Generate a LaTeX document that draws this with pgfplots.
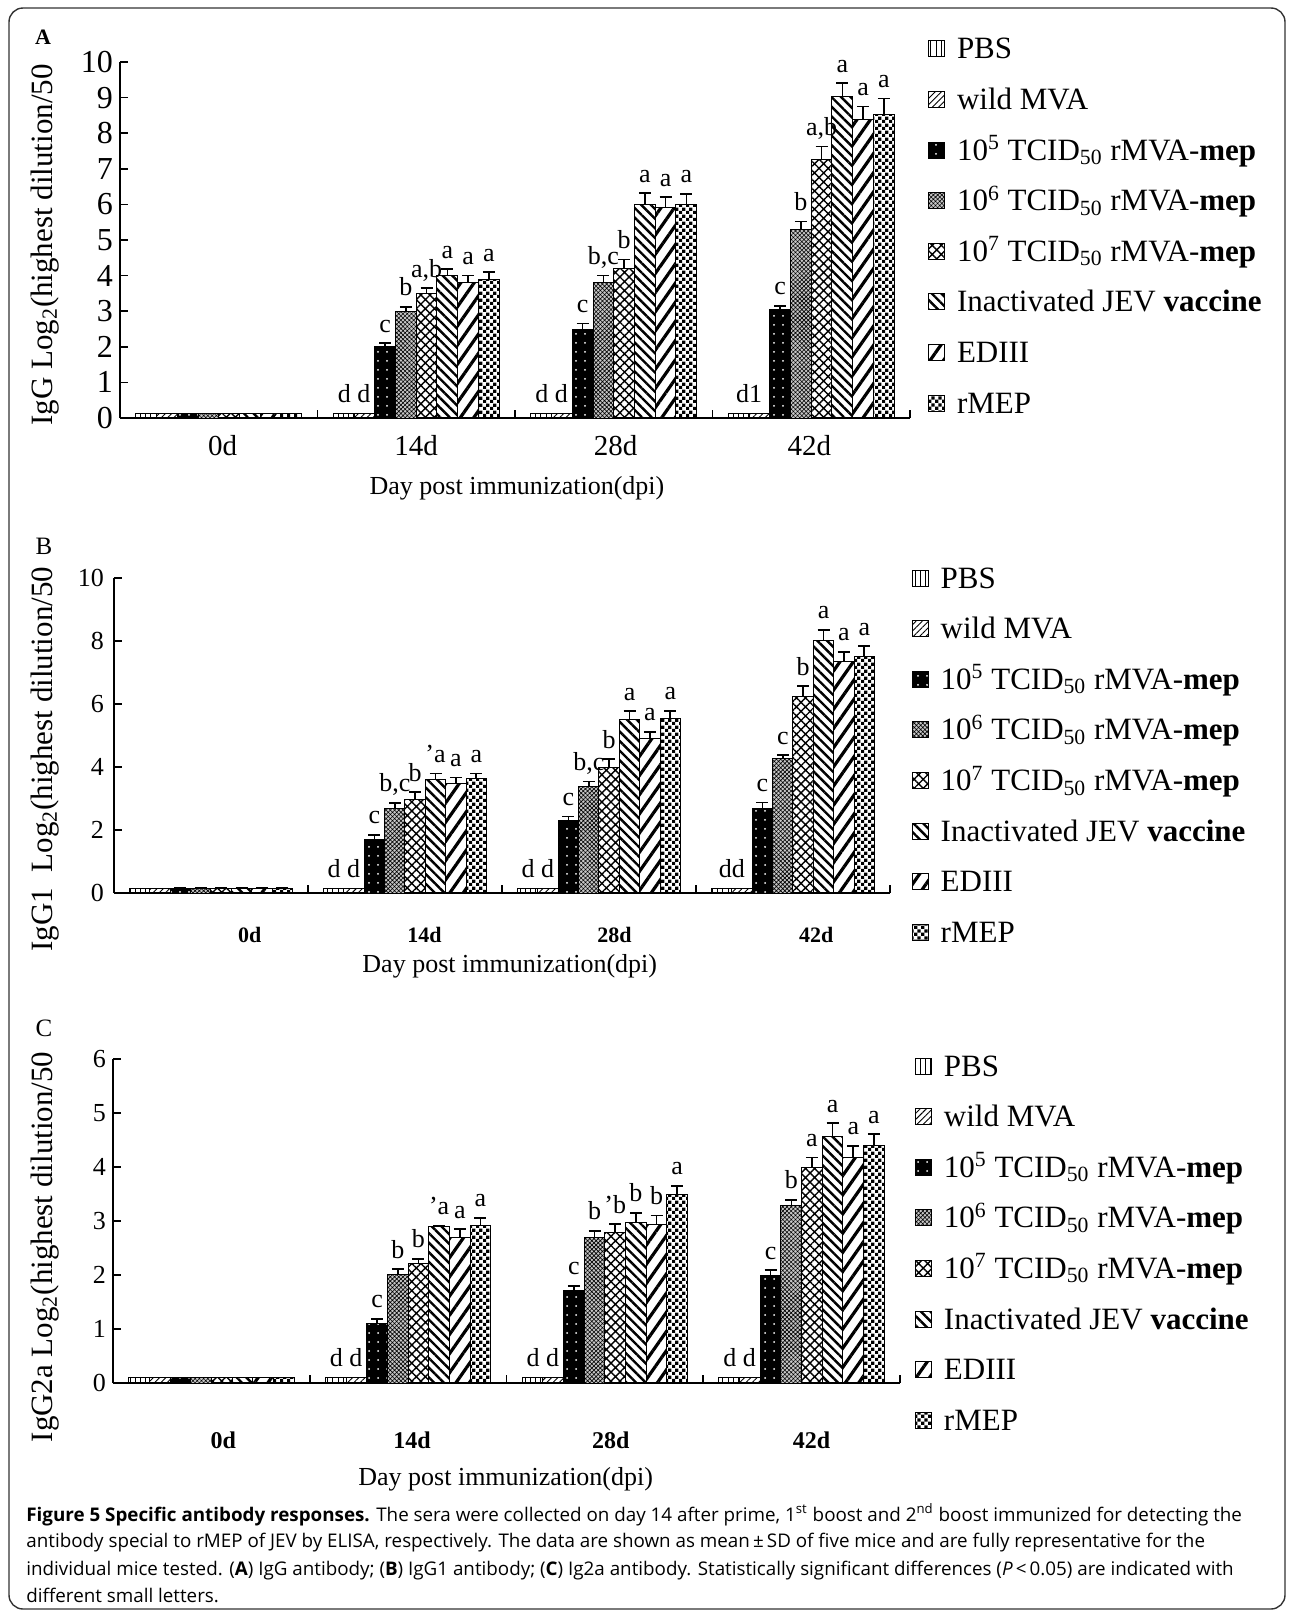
\documentclass[border=0pt]{standalone}
\usepackage{fontspec}
\setmainfont{Liberation Serif}
\newfontfamily\capfont{Open Sans}
\usepackage{pgfplots}
\pgfplotsset{compat=1.18}
\usetikzlibrary{patterns,patterns.meta}

\newcommand{\fs}[1]{\fontsize{#1}{#1}\selectfont}
\newcommand{\lab}[3]{\node[lab] at (axis cs:#1,#2) {#3};}
\tikzset{lab/.style={anchor=base, yshift=5.5pt, inner sep=0pt, font=\fs{13}}}

% small checkerboard for rMEP
\tikzdeclarepattern{
  name=finechecker,
  type=uncolored,
  bottom left={(0pt,0pt)},
  top right={(3.6pt,3.6pt)},
  tile size={(3.6pt,3.6pt)},
  code={
    \fill (0pt,0pt) rectangle (1.8pt,1.8pt);
    \fill (1.8pt,1.8pt) rectangle (3.6pt,3.6pt);
  }
}

\pgfplotsset{
  sq legend/.style={legend image code/.code={\draw[##1,line width=0.5pt] (0pt,-4pt) rectangle (8pt,4pt);}},
  mybar/.style={ybar, bar width=0.105, bar shift=0pt, draw=black, line width=0.5pt, sq legend},
  sPBS/.style={mybar, pattern={Lines[angle=90,distance=2.6pt,line width=0.5pt]}, error bars/y dir=none},
  sWild/.style={mybar, pattern={Lines[angle=45,distance=2.2pt,line width=0.45pt]}, error bars/y dir=none},
  sFive/.style={mybar, fill=black, postaction={pattern={Dots[distance=4.5pt,radius=0.5pt]}, pattern color=white}},
  sSix/.style={mybar, fill=black!22, postaction={pattern={Hatch[angle=45,distance=1.5pt,line width=0.3pt]}}},
  sSeven/.style={mybar, pattern={Hatch[angle=45,distance=3.2pt,line width=0.7pt]}},
  sJEV/.style={mybar, pattern={Lines[angle=-45,distance=3.4pt,line width=1.2pt]}},
  sED/.style={mybar, pattern={Lines[angle=55,distance=5.5pt,line width=1.6pt]}},
  sMEP/.style={mybar, pattern=finechecker},
  panel/.style={
    scale only axis, clip=false,
    xmin=0, xmax=4, ymin=0,
    axis x line*=bottom, axis y line*=left,
    axis line style={black, line width=0.8pt, -},
    tick align=inside,
    tick style={black, line width=0.8pt},
    major tick length=4pt, minor tick length=4pt,
    minor xtick={1,2,3,4},
    major x tick style={draw=none},
    /pgf/number format/assume math mode=true,
    error bars/y dir=plus, error bars/y explicit,
    error bars/error mark=-,
    error bars/error bar style={black, line width=0.8pt},
    error bars/error mark options={rotate=90, black, line width=0.8pt, mark size=3pt},
    legend cell align=left,
    legend style={anchor=north west, draw=none, fill=none, inner sep=0pt, outer sep=0pt,
      row sep=11.3pt, column sep=6pt, font=\fs{15.5},
      nodes={inner sep=0pt, text height=12pt, text depth=2pt}},
    ylabel style={font=\fs{15.5}, anchor=center},
    xlabel style={font=\fs{13}, anchor=base},
    xticklabels={0d,14d,28d,42d},
  },
}

\newcommand{\legentries}{%
  \addlegendentry{PBS}
  \addlegendentry{wild MVA}
  \addlegendentry{10\textsuperscript{5} TCID\textsubscript{50} rMVA-\textbf{mep}}
  \addlegendentry{10\textsuperscript{6} TCID\textsubscript{50} rMVA-\textbf{mep}}
  \addlegendentry{10\textsuperscript{7} TCID\textsubscript{50} rMVA-\textbf{mep}}
  \addlegendentry{Inactivated JEV \textbf{vaccine}}
  \addlegendentry{EDIII}
  \addlegendentry{rMEP}}

\begin{document}
\begin{tikzpicture}
\path (0pt,0pt) rectangle (645pt,-806pt);
\draw[rounded corners=7pt, line width=0.7pt, black!80] (4.5pt,-4pt) rectangle (642.5pt,-804.5pt);

% ---------- A: IgG ----------
\begin{axis}[panel, at={(60pt,-209pt)}, anchor=south west, width=395pt, height=178pt,
  ymax=10, ytick={0,1,...,10},
  yticklabel style={font=\fs{16}},
  xtick={0.52,1.5,2.51,3.49},
  xticklabel style={font=\fs{14.5}, anchor=base, yshift=-18.5pt},
  xlabel={Day post immunization(dpi)},
  xlabel style={at={(axis description cs:0.5025,-0.216)}},
  ylabel={IgG Log\textsubscript{2}(highest dilution/50},
  ylabel style={at={(axis description cs:-0.0949,0.486)}},
  legend style={at={(axis description cs:1.0228,1.076)}},
]
\addplot[sPBS] coordinates {(0.1325,0.13) (1.1325,0.13) (2.1325,0.13) (3.1325,0.13)};
\addplot[sWild] coordinates {(0.2375,0.13) (1.2375,0.13) (2.2375,0.13) (3.2375,0.13)};
\addplot[sFive] coordinates {(0.3425,0.13) +- (0,0) (1.3425,2.0) +- (0,0.1) (2.3425,2.5) +- (0,0.15) (3.3425,3.04) +- (0,0.11)};
\addplot[sSix] coordinates {(0.4475,0.13) +- (0,0) (1.4475,3.0) +- (0,0.12) (2.4475,3.8) +- (0,0.2) (3.4475,5.29) +- (0,0.23)};
\addplot[sSeven] coordinates {(0.5525,0.13) +- (0,0) (1.5525,3.5) +- (0,0.15) (2.5525,4.2) +- (0,0.25) (3.5525,7.26) +- (0,0.37)};
\addplot[sJEV] coordinates {(0.6575,0.13) +- (0,0) (1.6575,4.0) +- (0,0.18) (2.6575,6.0) +- (0,0.32) (3.6575,9.04) +- (0,0.37)};
\addplot[sED] coordinates {(0.7625,0.13) +- (0,0) (1.7625,3.8) +- (0,0.2) (2.7625,5.9) +- (0,0.3) (3.7625,8.38) +- (0,0.37)};
\addplot[sMEP] coordinates {(0.8675,0.13) +- (0,0) (1.8675,3.9) +- (0,0.2) (2.8675,6.0) +- (0,0.3) (3.8675,8.52) +- (0,0.45)};
\legentries
\lab{1.185}{0.13}{d d} \lab{1.3425}{2.1}{c} \lab{1.4475}{3.12}{b} \lab{1.5525}{3.65}{a,b}
\lab{1.6575}{4.18}{a} \lab{1.7625}{4.0}{a} \lab{1.8675}{4.1}{a}
\lab{2.185}{0.13}{d d} \lab{2.3425}{2.65}{c} \lab{2.4475}{4.0}{b,c} \lab{2.5525}{4.45}{b}
\lab{2.6575}{6.32}{a} \lab{2.7625}{6.2}{a} \lab{2.8675}{6.3}{a}
\lab{3.185}{0.13}{d1} \lab{3.3425}{3.15}{c} \lab{3.4475}{5.52}{b} \lab{3.5525}{7.63}{a,b}
\lab{3.6575}{9.41}{a} \lab{3.7625}{8.75}{a} \lab{3.8675}{8.97}{a}
\end{axis}

% ---------- B: IgG1 ----------
\begin{axis}[panel, at={(57pt,-446.5pt)}, anchor=south west, width=388pt, height=157.5pt,
  ymax=10, ytick={0,2,...,10},
  yticklabel style={font=\fs{13}, xshift=-1.5pt},
  xtick={0.70,1.60,2.58,3.62},
  xticklabel style={font=\bfseries\fs{11}, anchor=base, yshift=-24.5pt},
  xlabel={Day post immunization(dpi)},
  xlabel style={at={(axis description cs:0.510,-0.251)}},
  ylabel={IgG1\ \ Log\textsubscript{2}(highest dilution/50},
  ylabel style={at={(axis description cs:-0.0889,0.425)}},
  legend style={at={(axis description cs:1.028,1.044)}},
]
\addplot[sPBS] coordinates {(0.1325,0.15) (1.1325,0.15) (2.1325,0.15) (3.1325,0.15)};
\addplot[sWild] coordinates {(0.2375,0.15) (1.2375,0.15) (2.2375,0.15) (3.2375,0.15)};
\addplot[sFive] coordinates {(0.3425,0.15) +- (0,0) (1.3425,1.69) +- (0,0.16) (2.3425,2.30) +- (0,0.13) (3.3425,2.69) +- (0,0.18)};
\addplot[sSix] coordinates {(0.4475,0.15) +- (0,0) (1.4475,2.67) +- (0,0.19) (2.4475,3.39) +- (0,0.15) (3.4475,4.28) +- (0,0.10)};
\addplot[sSeven] coordinates {(0.5525,0.15) +- (0,0) (1.5525,2.98) +- (0,0.22) (2.5525,3.97) +- (0,0.28) (3.5525,6.25) +- (0,0.32)};
\addplot[sJEV] coordinates {(0.6575,0.15) +- (0,0) (1.6575,3.60) +- (0,0.19) (2.6575,5.52) +- (0,0.25) (3.6575,8.01) +- (0,0.34)};
\addplot[sED] coordinates {(0.7625,0.15) +- (0,0) (1.7625,3.49) +- (0,0.18) (2.7625,4.91) +- (0,0.21) (3.7625,7.34) +- (0,0.32)};
\addplot[sMEP] coordinates {(0.8675,0.15) +- (0,0) (1.8675,3.62) +- (0,0.17) (2.8675,5.54) +- (0,0.24) (3.8675,7.52) +- (0,0.32)};
\legentries
\lab{1.185}{0.15}{d d} \lab{1.3425}{1.85}{c} \lab{1.4475}{2.86}{b,c} \lab{1.5525}{3.2}{b}
\lab{1.6575}{3.79}{'a} \lab{1.7625}{3.67}{a} \lab{1.8675}{3.79}{a}
\lab{2.185}{0.15}{d d} \lab{2.3425}{2.43}{c} \lab{2.4475}{3.54}{b,c} \lab{2.5525}{4.25}{b}
\lab{2.6575}{5.77}{a} \lab{2.7625}{5.12}{a} \lab{2.8675}{5.78}{a}
\lab{3.185}{0.15}{dd} \lab{3.3425}{2.87}{c} \lab{3.4475}{4.38}{c} \lab{3.5525}{6.57}{b}
\lab{3.6575}{8.35}{a} \lab{3.7625}{7.66}{a} \lab{3.8675}{7.84}{a}
\end{axis}

% ---------- C: IgG2a ----------
\begin{axis}[panel, at={(56.5pt,-691.5pt)}, anchor=south west, width=393.5pt, height=162pt,
  ymax=6, ytick={0,1,...,6},
  yticklabel style={font=\fs{13}},
  xtick={0.56,1.52,2.53,3.55},
  xticklabel style={font=\bfseries\fs{12}, anchor=base, yshift=-32.5pt},
  xlabel={Day post immunization(dpi)},
  xlabel style={at={(axis description cs:0.499,-0.315)}},
  ylabel={IgG2a Log\textsubscript{2}(highest dilution/50},
  ylabel style={at={(axis description cs:-0.0864,0.42)}},
  legend style={at={(axis description cs:1.019,1.0216)}},
]
\addplot[sPBS] coordinates {(0.1325,0.1) (1.1325,0.1) (2.1325,0.1) (3.1325,0.1)};
\addplot[sWild] coordinates {(0.2375,0.1) (1.2375,0.1) (2.2375,0.1) (3.2375,0.1)};
\addplot[sFive] coordinates {(0.3425,0.1) +- (0,0) (1.3425,1.10) +- (0,0.09) (2.3425,1.72) +- (0,0.08) (3.3425,2.00) +- (0,0.09)};
\addplot[sSix] coordinates {(0.4475,0.1) +- (0,0) (1.4475,2.01) +- (0,0.10) (2.4475,2.69) +- (0,0.13) (3.4475,3.28) +- (0,0.11)};
\addplot[sSeven] coordinates {(0.5525,0.1) +- (0,0) (1.5525,2.22) +- (0,0.08) (2.5525,2.79) +- (0,0.15) (3.5525,3.99) +- (0,0.19)};
\addplot[sJEV] coordinates {(0.6575,0.1) +- (0,0) (1.6575,2.90) +- (0,0.02) (2.6575,2.98) +- (0,0.17) (3.6575,4.56) +- (0,0.25)};
\addplot[sED] coordinates {(0.7625,0.1) +- (0,0) (1.7625,2.70) +- (0,0.15) (2.7625,2.94) +- (0,0.16) (3.7625,4.17) +- (0,0.22)};
\addplot[sMEP] coordinates {(0.8675,0.1) +- (0,0) (1.8675,2.91) +- (0,0.15) (2.8675,3.49) +- (0,0.16) (3.8675,4.39) +- (0,0.22)};
\legentries
\lab{1.185}{0.1}{d d} \lab{1.3425}{1.19}{c} \lab{1.4475}{2.11}{b} \lab{1.5525}{2.30}{b}
\lab{1.6575}{2.92}{'a} \lab{1.7625}{2.85}{a} \lab{1.8675}{3.06}{a}
\lab{2.185}{0.1}{d d} \lab{2.3425}{1.80}{c} \lab{2.4475}{2.82}{b} \lab{2.5525}{2.94}{'b}
\lab{2.6575}{3.15}{b} \lab{2.7625}{3.10}{b} \lab{2.8675}{3.65}{a}
\lab{3.185}{0.1}{d d} \lab{3.3425}{2.09}{c} \lab{3.4475}{3.39}{b} \lab{3.5525}{4.18}{a}
\lab{3.6575}{4.81}{a} \lab{3.7625}{4.39}{a} \lab{3.8675}{4.61}{a}
\end{axis}

% panel letters
\node[font=\bfseries\fs{11}] at (21.5pt,-18.5pt) {A};
\node[font=\fs{12.5}] at (22pt,-273pt) {B};
\node[font=\fs{12.5}] at (22pt,-514pt) {C};

% caption
\begin{scope}[every node/.style={anchor=base west, inner sep=0pt, font=\capfont\fs{9.4}}]
\node at (13pt,-760.5pt) {\textbf{Figure 5 Specific antibody responses.} The sera were collected on day 14 after prime, 1\textsuperscript{st} boost and 2\textsuperscript{nd} boost immunized for detecting the};
\node at (13pt,-773.5pt) {antibody special to rMEP of JEV by ELISA, respectively. The data are shown as mean\,±\,SD of five mice and are fully representative for the};
\node at (13pt,-787.5pt) {individual mice tested. (\textbf{A}) IgG antibody; (\textbf{B}) IgG1 antibody; (\textbf{C}) Ig2a antibody. Statistically significant differences (\textit{P}\,<\,0.05) are indicated with};
\node at (13pt,-801pt) {different small letters.};
\end{scope}
\end{tikzpicture}
\end{document}
